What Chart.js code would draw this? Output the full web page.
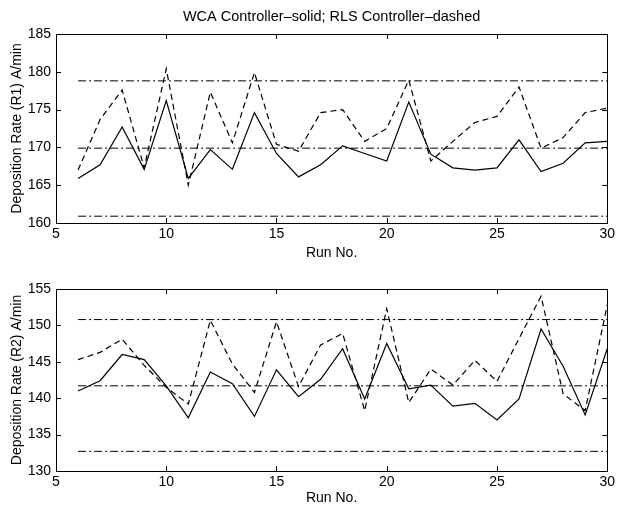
<!DOCTYPE html>
<html>
<head>
<meta charset="utf-8">
<script src="https://cdn.jsdelivr.net/npm/chart.js@4"></script>
<style>
  body { margin: 0; background: #fff; }
  #wrap { position: relative; width: 618px; height: 507px; }
  canvas { position: absolute; left: 0; }
  #chart1 { top: 0; }
  #chart2 { top: 262px; }
</style>
</head>
<body>
<div id="wrap">
  <canvas id="chart1" width="618" height="262"></canvas>
  <canvas id="chart2" width="618" height="245"></canvas>
</div>
<script>
const runs = [6, 7, 8, 9, 10, 11, 12, 13, 14, 15, 16, 17, 18, 19, 20, 21, 22, 23, 24, 25, 26, 27, 28, 29, 30];

const r1Wca = [165.9, 167.7, 172.7, 167.1, 176.2, 165.9, 169.7, 167.1, 174.6, 169.2, 166.1, 167.7, 170.2, 169.2, 168.2, 176.0, 169.1, 167.3, 167.0, 167.3, 171.0, 166.8, 167.9, 170.6, 170.8];
const r1Rls = [167.0, 173.7, 177.6, 167.3, 180.4, 165.0, 177.3, 170.6, 179.9, 170.4, 169.5, 174.6, 175.0, 170.8, 172.5, 178.9, 168.2, 170.8, 173.3, 174.1, 178.0, 169.9, 171.3, 174.6, 175.2];
const r1Limits = [178.8, 169.9, 160.9];

const r2Wca = [141.0, 142.4, 146.0, 145.3, 141.7, 137.3, 143.6, 142.0, 137.5, 143.9, 140.2, 142.6, 146.8, 139.9, 147.5, 141.3, 141.8, 138.9, 139.3, 137.0, 139.9, 149.5, 144.4, 137.7, 146.8];
const r2Rls = [145.3, 146.3, 148.1, 144.5, 141.5, 139.2, 150.7, 144.7, 140.8, 150.5, 141.6, 147.3, 148.9, 138.3, 152.3, 139.4, 144.0, 141.8, 145.2, 142.3, 148.2, 154.0, 140.6, 138.3, 152.8];
const r2Limits = [150.8, 141.7, 132.7];

const xTicks = [5, 10, 15, 20, 25, 30];
const r1Ticks = [160, 165, 170, 175, 180, 185];
const r2Ticks = [130, 135, 140, 145, 150, 155];
const limitSpan = [6, 30];

const FONT = { family: "'Liberation Sans', Arial, sans-serif", size: 14 };

function pts(ys) {
    return runs.map(function(r, i) { return { x: r, y: ys[i] }; });
}

function limitSets(limits) {
    return limits.map(function(v) {
        return {
            data: limitSpan.map(function(x) { return { x: x, y: v }; }),
            borderColor: '#000',
            borderWidth: 1,
            borderDash: [8, 3, 2, 3],
            pointRadius: 0
        };
    });
}

const boxPlugin = {
    id: 'box',
    afterDraw: function(chart) {
        const ctx = chart.ctx;
        const a = chart.chartArea;
        ctx.save();
        ctx.strokeStyle = '#000';
        ctx.lineWidth = 1;
        ctx.strokeRect(Math.round(a.left) + 0.5, Math.round(a.top) + 0.5, Math.round(a.right - a.left), Math.round(a.bottom - a.top));
        ctx.beginPath();
        chart.scales.x.ticks.forEach(function(t) {
            const px = Math.round(chart.scales.x.getPixelForValue(t.value)) + 0.5;
            ctx.moveTo(px, a.bottom); ctx.lineTo(px, a.bottom - 5);
            ctx.moveTo(px, a.top); ctx.lineTo(px, a.top + 5);
        });
        chart.scales.y.ticks.forEach(function(t) {
            const py = Math.round(chart.scales.y.getPixelForValue(t.value)) + 0.5;
            ctx.moveTo(a.left, py); ctx.lineTo(a.left + 5, py);
            ctx.moveTo(a.right, py); ctx.lineTo(a.right - 5, py);
        });
        ctx.stroke();
        if (chart.options.plugins.topText) {
            ctx.fillStyle = '#000';
            ctx.font = '14.5px ' + FONT.family;
            ctx.textAlign = 'center';
            ctx.textBaseline = 'middle';
            ctx.fillText(chart.options.plugins.topText, (a.left + a.right) / 2, 17);
        }
        ctx.restore();
    }
};

function makeChart(id, wca, rls, limits, yTicks, yLabel, padTop, xHeight, xTitlePad, topText) {
    const ctx = document.getElementById(id).getContext('2d');
    return new Chart(ctx, {
        type: 'line',
        data: {
            datasets: [
                { data: pts(wca), borderColor: '#000', borderWidth: 1.2, pointRadius: 0, tension: 0 },
                { data: pts(rls), borderColor: '#000', borderWidth: 1.2, borderDash: [6, 4], pointRadius: 0, tension: 0 }
            ].concat(limitSets(limits))
        },
        options: {
            responsive: false,
            animation: false,
            devicePixelRatio: 1,
            layout: { padding: { top: padTop, right: 7, left: 0, bottom: 0 } },
            plugins: {
                legend: { display: false },
                tooltip: { enabled: false },
                topText: topText
            },
            scales: {
                x: {
                    type: 'linear',
                    min: 5,
                    max: 30,
                    afterBuildTicks: function(s) { s.ticks = xTicks.map(function(v) { return { value: v }; }); },
                    afterFit: function(s) { s.height = xHeight; },
                    grid: { display: false, drawTicks: false },
                    border: { display: false },
                    ticks: { color: '#000', font: FONT, padding: 3, maxRotation: 0 },
                    title: { display: true, text: 'Run No.', color: '#000', font: FONT, padding: { top: 0, bottom: xTitlePad } }
                },
                y: {
                    min: yTicks[0],
                    max: yTicks[yTicks.length - 1],
                    afterBuildTicks: function(s) { s.ticks = yTicks.map(function(v) { return { value: v }; }); },
                    afterFit: function(s) { s.width = 56; },
                    grid: { display: false, drawTicks: false },
                    border: { display: false },
                    ticks: { color: '#000', font: FONT, padding: 5 },
                    title: { display: true, text: yLabel, color: '#000', font: FONT, padding: { top: 9, bottom: 0 } }
                }
            }
        },
        plugins: [boxPlugin]
    });
}

document.addEventListener("DOMContentLoaded", function() {
    makeChart('chart1', r1Wca, r1Rls, r1Limits, r1Ticks, 'Deposition Rate (R1) A/min', 34, 39, 0.8, 'WCA Controller\u2013solid; RLS Controller\u2013dashed');
    makeChart('chart2', r2Wca, r2Rls, r2Limits, r2Ticks, 'Deposition Rate (R2) A/min', 27, 36, 0, null);
});
</script>
</body>
</html>
